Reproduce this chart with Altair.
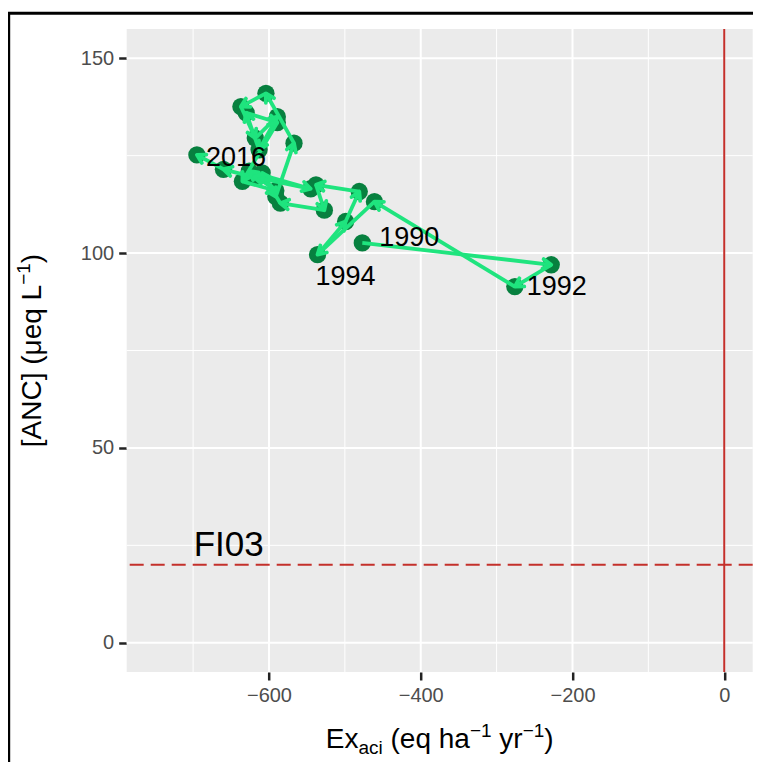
import math
import altair as alt
import pandas as pd

# ---------------- data ----------------
years = list(range(1990, 2017))
exaci = [-477, -228, -276, -461, -536, -499, -481, -538, -527, -585,
         -609, -591, -567, -604, -637, -618, -589, -613, -630, -589,
         -635, -591, -626, -545, -620, -660, -695]
anc = [102.6, 97.0, 91.4, 113.2, 99.6, 108.1, 115.8, 117.5, 111.0, 112.8,
       120.6, 114.5, 128.2, 141.0, 137.6, 129.5, 135.0, 126.5, 136.0, 133.5,
       118.4, 116.0, 121.0, 116.5, 119.5, 121.5, 125.2]
label_years = [1990, 1992, 1994, 2016]
x_ticks = [-600, -400, -200, 0]
x_minor = [-700, -500, -300, -100]
y_ticks = [0, 50, 100, 150]
y_minor = [25, 75, 125]
critical_anc = [20]
exaci_zero = [0]
site_name = ["FI03"]
site_x = [-653]
site_y = [25]

# ---------------- layout / style ----------------
FONT = "Liberation Sans"
X_DOMAIN = [-787.5, 37.5]
Y_DOMAIN = [-7.5, 157.5]
W, H = 626, 643
KX = W / (X_DOMAIN[1] - X_DOMAIN[0])
KY = H / (Y_DOMAIN[1] - Y_DOMAIN[0])
DARK = "#07803f"
LIGHT = "#1fe47e"
RED = "#c4302b"
TICK = "#222222"

xscale = alt.Scale(domain=X_DOMAIN, nice=False, zero=False)
yscale = alt.Scale(domain=Y_DOMAIN, nice=False, zero=False)
xaxis = alt.Axis(values=x_ticks, title=None, grid=False, domain=False,
                 ticks=True, tickColor=TICK, tickWidth=2.5, tickSize=8, tickOpacity=1,
                 labelColor="#4d4d4d", labelFontSize=20, labelFont=FONT, labelPadding=6)
yaxis = alt.Axis(values=y_ticks, title=None, grid=False, domain=False,
                 ticks=True, tickColor=TICK, tickWidth=2.5, tickSize=8, tickOpacity=1,
                 labelColor="#4d4d4d", labelFontSize=20, labelFont=FONT, labelPadding=5)


def X(field):
    return alt.X(field, type="quantitative", scale=xscale, axis=xaxis)


def Y(field):
    return alt.Y(field, type="quantitative", scale=yscale, axis=yaxis)


pts = pd.DataFrame({"year": years, "x": exaci, "y": anc})
seg = pd.DataFrame({"x": exaci[:-1], "y": anc[:-1], "xe": exaci[1:], "ye": anc[1:]})
seg["angle"] = [
    math.degrees(math.atan2((b - a) * KX, (d - c) * KY)) % 360
    for a, b, c, d in zip(seg["x"], seg["xe"], seg["y"], seg["ye"])
]

one = pd.DataFrame({"a": [0]})

layers = []

# panel background
layers.append(alt.Chart(one).mark_rect(color="#ebebeb")
              .encode(x=alt.value(0), x2=alt.value(W), y=alt.value(0), y2=alt.value(H)))

# minor grid
layers.append(alt.Chart(pd.DataFrame({"v": x_minor})).mark_rule(color="white", strokeWidth=1)
              .encode(x=X("v")))
layers.append(alt.Chart(pd.DataFrame({"v": y_minor})).mark_rule(color="white", strokeWidth=1)
              .encode(y=Y("v")))
# major grid
layers.append(alt.Chart(pd.DataFrame({"v": x_ticks})).mark_rule(color="white", strokeWidth=2)
              .encode(x=X("v")))
layers.append(alt.Chart(pd.DataFrame({"v": y_ticks})).mark_rule(color="white", strokeWidth=2)
              .encode(y=Y("v")))

# reference lines
layers.append(alt.Chart(pd.DataFrame({"v": exaci_zero})).mark_rule(color=RED, strokeWidth=2)
              .encode(x=X("v")))
layers.append(alt.Chart(pd.DataFrame({"v": critical_anc}))
              .mark_rule(color=RED, strokeWidth=2, strokeDash=[14, 7])
              .encode(y=Y("v")))

# site label
layers.append(alt.Chart(pd.DataFrame({"x": site_x, "y": site_y, "t": site_name}))
              .mark_text(font=FONT, fontSize=35, color="black", align="center", baseline="middle")
              .encode(x=X("x"), y=Y("y"), text="t:N"))

# points
layers.append(alt.Chart(pts).mark_circle(size=300, color=DARK, opacity=1)
              .encode(x=X("x"), y=Y("y")))

# arrows
layers.append(alt.Chart(seg).mark_rule(color=LIGHT, strokeWidth=3.8)
              .encode(x=X("x"), y=Y("y"), x2="xe:Q", y2="ye:Q"))
CHEVRON = "M -0.5 0.866 L 0 0 L 0.5 0.866"
layers.append(alt.Chart(seg).mark_point(shape=CHEVRON, filled=False, color=LIGHT, strokeWidth=3.8,
                                        size=361, opacity=1, strokeCap="round", strokeJoin="round")
              .encode(x=X("xe"), y=Y("ye"), angle=alt.Angle("angle:Q", scale=None)))

# year labels
offsets = {1990: (17, -5), 1992: (12, 0), 1994: (-2, 22), 2016: (9, 3)}
for yr in label_years:
    dx, dy = offsets[yr]
    layers.append(alt.Chart(pts).transform_filter(alt.datum.year == yr)
                  .mark_text(font=FONT, fontSize=27, color="black", align="left",
                             baseline="middle", dx=dx, dy=dy)
                  .encode(x=X("x"), y=Y("y"), text="year:N"))

# axis titles composed of pieces (sub/superscripts); None = a word space
NB = "\u00a0"
WID = {'E': 667, 'x': 500, 'a': 556, 'c': 500, 'i': 222, NB: 278, ' ': 278, '(': 333, 'e': 556,
       'q': 556, 'h': 556, 'y': 500, 'r': 333, ')': 333, '\u2212': 584, '1': 556,
       '[': 278, ']': 278, 'A': 667, 'N': 722, 'C': 722, '\u03bc': 576, 'L': 556}


def tw(s, size):
    return sum(WID.get(ch, 556) for ch in s) / 1000 * size


MAIN, SMALL = 28, 19
SPACE = tw(" ", MAIN)
x_title = [("Ex", MAIN, 0), ("aci", SMALL, 6), None, ("(eq" + NB + "ha", MAIN, 0), ("\u22121", SMALL, -11),
           None, ("yr", MAIN, 0), ("\u22121", SMALL, -11), (")", MAIN, 0)]
total = sum(SPACE if p is None else tw(p[0], p[1]) for p in x_title)
cx = W / 2 - total / 2
for p in x_title:
    if p is None:
        cx += SPACE
        continue
    t, s, off = p
    layers.append(alt.Chart(one).mark_text(text=t, font=FONT, fontSize=s, color="black",
                                           align="left", baseline="alphabetic")
                  .encode(x=alt.value(cx), y=alt.value(719 + off)))
    cx += tw(t, s)

y_title = [("[ANC]", MAIN, 0), None, ("(\u03bceq" + NB + "L", MAIN, 0), ("\u22121", SMALL, -11), (")", MAIN, 0)]
total = sum(SPACE if p is None else tw(p[0], p[1]) for p in y_title)
cy = H / 2 + total / 2
for p in y_title:
    if p is None:
        cy -= SPACE
        continue
    t, s, off = p
    layers.append(alt.Chart(one).mark_text(text=t, font=FONT, fontSize=s, color="black",
                                           align="left", baseline="alphabetic", angle=270)
                  .encode(x=alt.value(-86 + off), y=alt.value(cy)))
    cy -= tw(t, s)

# outer frame (left and top edges visible)
layers.append(alt.Chart(one).mark_rule(color="black", strokeWidth=3)
              .encode(x=alt.value(-118), y=alt.value(-15.7), y2=alt.value(780)))
layers.append(alt.Chart(one).mark_rule(color="black", strokeWidth=3)
              .encode(x=alt.value(-119.5), x2=alt.value(700), y=alt.value(-15.7)))

chart = (alt.layer(*layers)
         .properties(width=W, height=H, background="white",
                     autosize=alt.AutoSizeParams(type="none"),
                     padding={"left": 118.7, "top": 21, "right": 0, "bottom": 90})
         .configure_axis(zindex=1)
         .configure_view(stroke="transparent"))

chart.save("out.html", embed_options={"renderer": "svg", "actions": False})
